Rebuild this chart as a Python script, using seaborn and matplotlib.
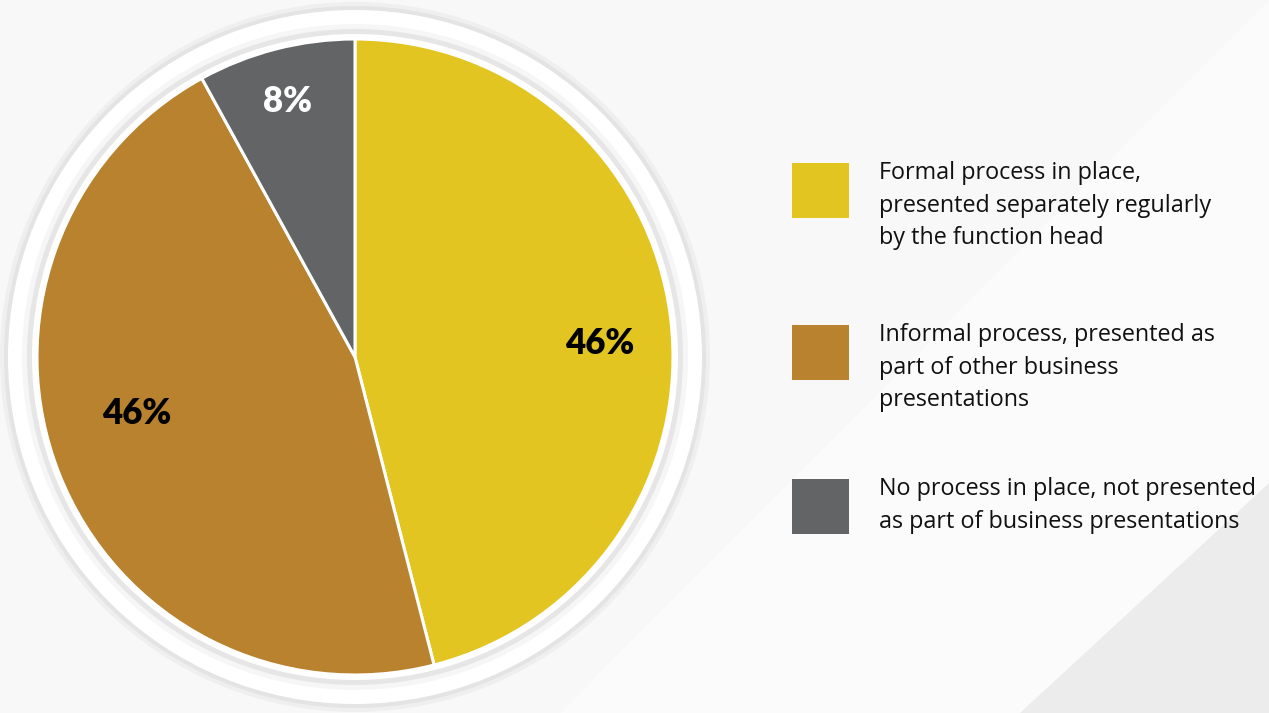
import numpy as np
import matplotlib
matplotlib.use("Agg")
import matplotlib.pyplot as plt
from matplotlib.patches import Rectangle, Circle, Polygon
import seaborn as sns

# Survey shares per response category
categories = [
    "Formal process in place,\npresented separately regularly\nby the function head",
    "Informal process, presented as\npart of other business\npresentations",
    "No process in place, not presented\nas part of business presentations",
]
shares = [46, 46, 8]
share_labels = ["46%", "46%", "8%"]
palette = ["#E2C520", "#B8822E", "#636466"]
label_colors = ["#000000", "#000000", "#FFFFFF"]

sns.set_theme(style="white")
plt.rcParams["font.family"] = ["Open Sans", "DejaVu Sans"]

W, H = 1269, 713
fig = plt.figure(figsize=(W / 100, H / 100), dpi=100)
fig.patch.set_facecolor("#f6f6f6")
ax = fig.add_axes([0, 0, 1, 1])
ax.set_xlim(0, W)
ax.set_ylim(0, H)
ax.set_aspect("equal")
ax.axis("off")

# Soft diagonal backdrop shapes
ax.add_patch(Polygon([[0, 713], [1269, 713], [1269, 0], [0, 0]], closed=True,
                     facecolor="#f8f8f8", edgecolor="none", zorder=0))
ax.add_patch(Polygon([[560, 0], [1269, 713], [1269, 0]], closed=True,
                     facecolor="#fbfbfb", edgecolor="none", zorder=0))
ax.add_patch(Polygon([[1020, 0], [1269, 0], [1269, 230]], closed=True,
                     facecolor="#ececec", edgecolor="none", zorder=0))

cx, cy, R = 355, 356, 318

# Bevelled white ring behind the pie
for r, c in [(355, "#efefef"), (351, "#e4e4e4"), (347, "#ffffff"),
             (333, "#f6f6f6"), (328, "#e6e6e6"), (323, "#ffffff")]:
    ax.add_patch(Circle((cx, cy), r, facecolor=c, edgecolor="none", zorder=1))

wedges, _ = ax.pie(
    shares, colors=palette, startangle=90, counterclock=False,
    center=(cx, cy), radius=R, frame=True,
    wedgeprops=dict(edgecolor="white", linewidth=2.2),
)
for w in wedges:
    w.set_zorder(2)
ax.set_xlim(0, W)
ax.set_ylim(0, H)
ax.axis("off")

# Percentage labels placed along each wedge's bisector
radial = [0.77, 0.71, 0.83]
angle_shift = [-4.0, -7.0, 0.5]
for w, lab, col, rf, da in zip(wedges, share_labels, label_colors, radial, angle_shift):
    mid = np.deg2rad((w.theta1 + w.theta2) / 2 + da)
    x = cx + rf * R * np.cos(mid)
    y = cy + rf * R * np.sin(mid)
    ax.text(x, y, lab, ha="center", va="center", fontsize=25,
            fontweight="heavy", color=col, family=["Lato", "DejaVu Sans"], zorder=3)

# Legend: colour swatches with wrapped descriptions
item_tops = [163, 325, 479]
line_gap = 32.5
for top, text, col in zip(item_tops, categories, palette):
    ax.add_patch(Rectangle((792, H - top - 55), 57, 55, facecolor=col,
                           edgecolor="none", zorder=3))
    for i, line in enumerate(text.split("\n")):
        ax.text(879, H - (top + 10 + i * line_gap), line, ha="left", va="center",
                fontsize=16.8, color="#111111", zorder=3)

fig.savefig("out.png", dpi=100, facecolor=fig.get_facecolor())
